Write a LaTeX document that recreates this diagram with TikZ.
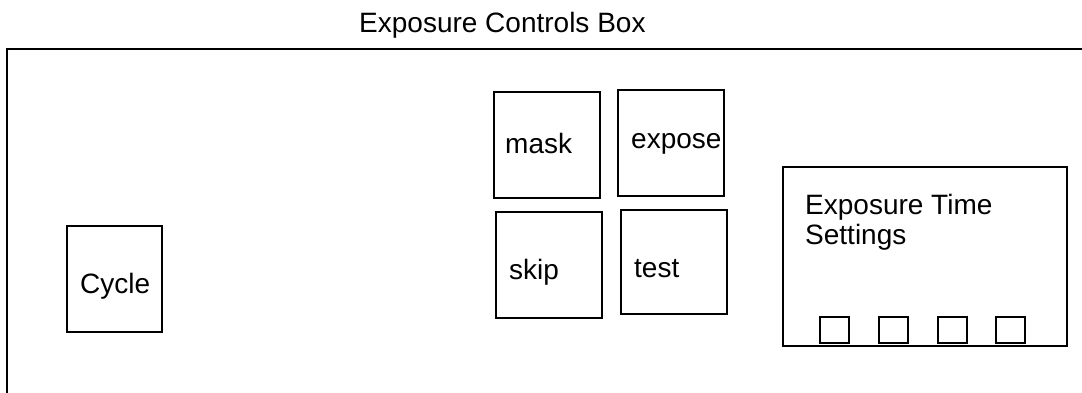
\documentclass[tikz,border=0pt]{standalone}
\usepackage{fontspec}
\setmainfont{Liberation Sans}
\begin{document}
\begin{tikzpicture}[x=1pt,y=-1pt,
  box/.style={draw,line width=1.6pt,rectangle,inner sep=0pt,anchor=north west},
  key/.style={draw,line width=1.6pt,rectangle,inner sep=0pt,anchor=north west,minimum width=29pt,minimum height=26pt},
  lbl/.style={inner sep=0pt,anchor=base west,font=\fontsize{28}{32}\selectfont},
  lbl2/.style={inner sep=0pt,anchor=base west,align=left,font=\fontsize{28}{30}\selectfont}]
\useasboundingbox (0,0) rectangle (1082,392);
\node[lbl] (title) at (359,32) {Exposure Controls Box};
\coordinate (otr) at (1085,49);
\coordinate (otl) at (7,49);
\coordinate (obl) at (7,395);
\draw[line width=1.6pt] (otr) -- (otl) -- (obl);
\node[box,minimum width=95pt,minimum height=106pt] (cycle) at (66,225) {};
\node[lbl] (cyclet) at (80,293) {Cycle};
\node[box,minimum width=106pt,minimum height=106pt] (mask) at (493,91) {};
\node[lbl] (maskt) at (505,153) {mask};
\node[box,minimum width=106pt,minimum height=106pt] (expose) at (617,89) {};
\node[lbl] (exposet) at (631,148) {expose};
\node[box,minimum width=106pt,minimum height=106pt] (skip) at (495,211) {};
\node[lbl] (skipt) at (509,279) {skip};
\node[box,minimum width=106pt,minimum height=104pt] (test) at (620,209) {};
\node[lbl] (testt) at (634,277) {test};
\node[box,minimum width=284pt,minimum height=179pt] (ets) at (782,166) {};
\node[lbl2] (etst) at (805,244) {Exposure Time\\Settings};
\node[key] (k1) at (819,316) {};
\node[key] (k2) at (878,316) {};
\node[key] (k3) at (937,316) {};
\node[key] (k4) at (995,316) {};
\end{tikzpicture}
\end{document}
